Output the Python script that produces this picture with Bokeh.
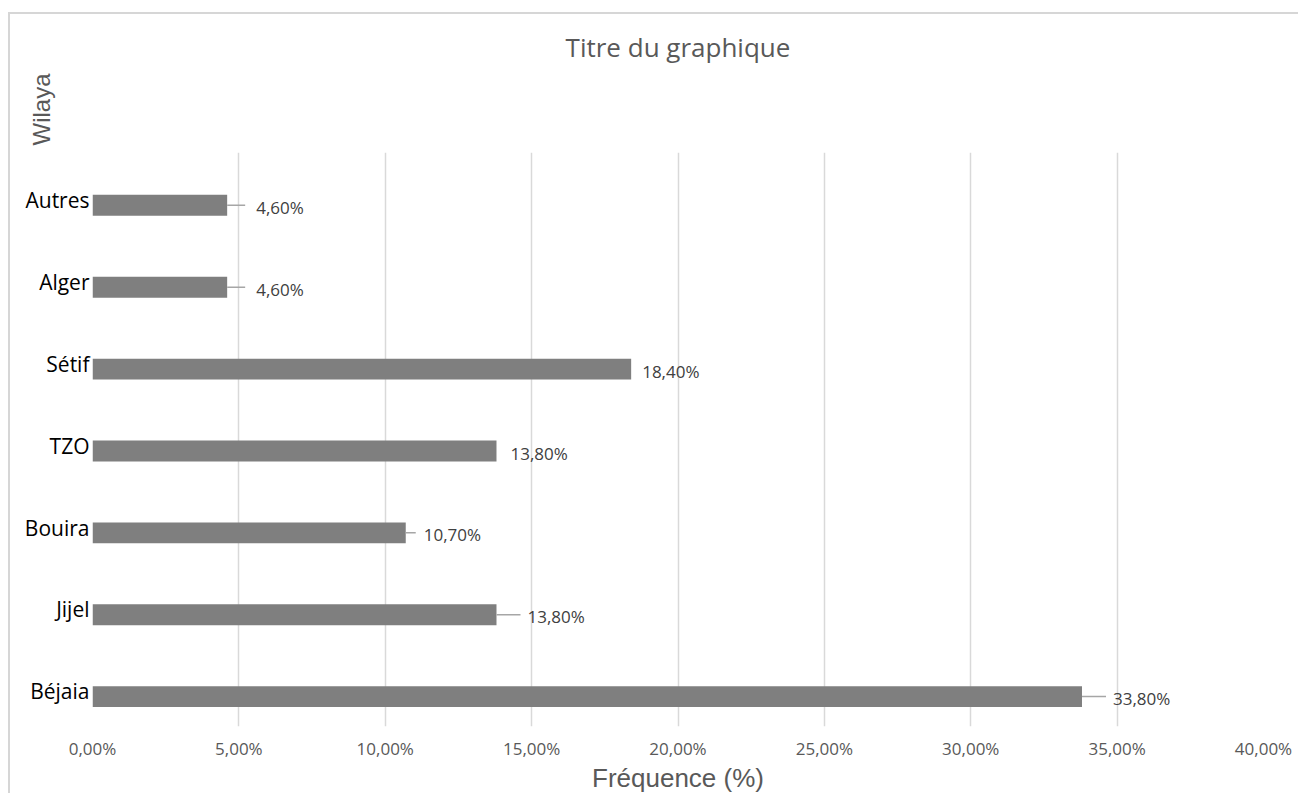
from bokeh.plotting import figure
from bokeh.models import ColumnDataSource, Range1d, FixedTicker, LinearAxis, Grid, Title
from bokeh.transform import dodge
from bokeh.core.properties import value
from bokeh.embed import file_html
from bokeh.resources import INLINE

# ---- data ----
categories = ["Béjaia", "Jijel", "Bouira", "TZO", "Sétif", "Alger", "Autres"]
frequences = [33.8, 13.8, 10.7, 13.8, 18.4, 4.6, 4.6]
labels = ["33,80%", "13,80%", "10,70%", "13,80%", "18,40%", "4,60%", "4,60%"]
x_ticks = [0, 5, 10, 15, 20, 25, 30, 35, 40]
tick_labels = ["0,00%", "5,00%", "10,00%", "15,00%", "20,00%", "25,00%", "30,00%", "35,00%", "40,00%"]

# ---- style (leader line lengths / label offsets in px) ----
leader_px = [24, 24, 10, 0, 0, 18, 18]
label_off_px = [31, 31, 18, 14, 11, 29, 29]

n = len(categories)
ypos = list(range(n))  # category slots along the y axis

W, H = 1290, 781
p = figure(width=W, height=H, y_range=Range1d(-0.43, n - 0.42), x_range=Range1d(0, 40),
           output_backend="svg", toolbar_location=None, y_axis_location=None, x_axis_location=None,
           min_border_left=82, min_border_right=37, min_border_top=138, min_border_bottom=66)
p.styles = {"border-top": "2px solid #d6d6d6", "border-left": "2px solid #d6d6d6",
            "margin-top": "12px", "margin-left": "8px"}
p.outline_line_color = None
p.background_fill_color = "white"
p.border_fill_color = "white"

src = ColumnDataSource(dict(y=ypos, cat=categories, v=frequences, lab=labels,
                            lead=leader_px, off=label_off_px))

p.hbar(y=dodge("y", -0.065), right="v", left=0, height=0.255,
       source=src, fill_color="#7f7f7f", line_color=None)

lead_idx = [i for i, l in enumerate(leader_px) if l > 0]
lsrc = ColumnDataSource(dict(y=[ypos[i] for i in lead_idx], v=[frequences[i] for i in lead_idx],
                             lead=[leader_px[i] for i in lead_idx]))
p.ray(x="v", y=dodge("y", -0.065), length="lead", length_units="screen",
      angle=0, source=lsrc, line_color="#a6a6a6", line_width=1.5)

p.text(x="v", y=dodge("y", -0.09), text="lab", x_offset="off", source=src,
       text_font=value("Open Sans"), text_font_size="17px", text_color="#404040",
       text_baseline="middle", text_align="left")

# ---- category axis (left) ----
yax = LinearAxis(ticker=FixedTicker(ticks=ypos),
                 major_label_overrides={i: c for i, c in zip(ypos, categories)})
yax.axis_line_color = None
yax.major_tick_line_color = None
yax.minor_tick_line_color = None
yax.major_tick_out = 0
yax.major_tick_in = 0
yax.major_label_standoff = 3
yax.major_label_text_font = "Open Sans"
yax.major_label_text_font_size = "21px"
yax.major_label_text_color = "#000000"
p.add_layout(yax, "left")

# ---- "Wilaya" (vertical title at the top left, above the plotting area) ----
wt = Title(text="Wilaya", align="right", vertical_align="bottom",
           text_font="Liberation Sans", text_font_size="24px", text_font_style="normal",
           text_color="#595959")
wt.offset = -79
try:
    wt.standoff = -66
except Exception:
    wt.standoff = 0
p.add_layout(wt, "left")

# ---- x axis (below) ----
xax = LinearAxis(ticker=FixedTicker(ticks=x_ticks),
                 major_label_overrides={t: l for t, l in zip(x_ticks, tick_labels)})
xax.axis_line_color = None
xax.major_tick_line_color = None
xax.minor_tick_line_color = None
xax.major_tick_out = 0
xax.major_tick_in = 0
xax.major_label_standoff = 10
xax.major_label_text_font = "Open Sans"
xax.major_label_text_font_size = "17px"
xax.major_label_text_color = "#595959"
xax.axis_label = "Fréquence (%)"
xax.axis_label_text_font = "Liberation Sans"
xax.axis_label_text_font_size = "26px"
xax.axis_label_text_font_style = "normal"
xax.axis_label_text_color = "#595959"
xax.axis_label_standoff = 0
p.add_layout(xax, "below")

# ---- chart title (as an above axis label) ----
tax = LinearAxis(ticker=FixedTicker(ticks=[]))
tax.axis_line_color = None
tax.major_tick_line_color = None
tax.minor_tick_line_color = None
tax.major_label_text_font_size = "0px"
tax.axis_label = "Titre du graphique"
tax.axis_label_text_font = "Open Sans"
tax.axis_label_text_font_size = "26px"
tax.axis_label_text_font_style = "normal"
tax.axis_label_text_color = "#595959"
tax.axis_label_standoff = 88
p.add_layout(tax, "above")

p.xgrid.grid_line_color = None
p.ygrid.grid_line_color = None
p.add_layout(Grid(dimension=0, ticker=xax.ticker, grid_line_color="#d9d9d9", grid_line_width=1.5))

open("out.html", "w").write(file_html(p, INLINE))
